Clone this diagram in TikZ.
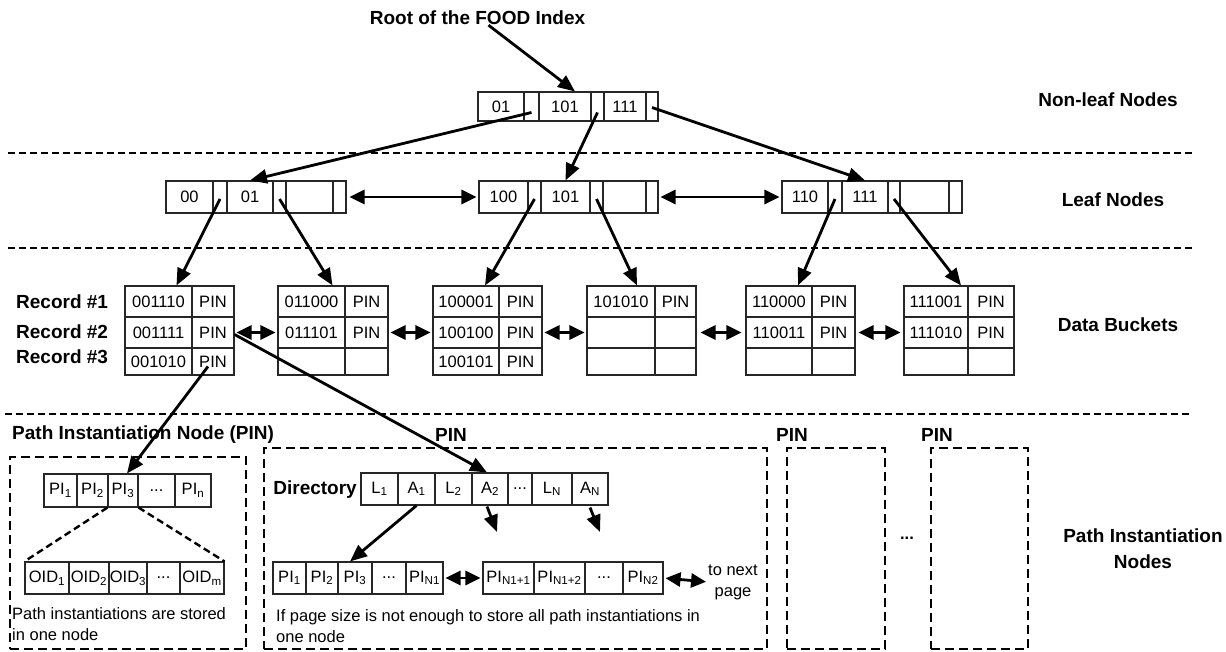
\documentclass[tikz,border=0pt]{standalone}
\usepackage{fontspec}
\setmainfont{Liberation Sans}
\usetikzlibrary{arrows.meta}
\newcommand\cellfont{\fontsize{16.5}{21}\selectfont}
\newcommand\lblfont{\fontsize{19}{26}\selectfont\bfseries}
% \mkcell[style]{name}{x0}{x1}{y0}{y1}{text}: a box spanning x0..x1, y0..y1
\newcommand\mkcell[7][cell]{\node[#1, minimum width={(#4)-(#3)}, minimum height={(#6)-(#5)}] (#2) at ({((#3)+(#4))/2},{((#5)+(#6))/2}) {#7};}
\begin{document}
\begin{tikzpicture}[x=1pt,y=-1pt,
  cell/.style={draw=black!85, line width=1.1pt, inner sep=0pt, font=\cellfont},
  dbox/.style={draw, line width=2.4pt, dash pattern=on 9pt off 5pt, inner sep=0pt},
  sepline/.style={line width=2.5pt, dash pattern=on 7pt off 4pt},
  arr/.style={line width=2.8pt, -{Triangle[length=17pt,width=14pt]}},
  darr/.style={line width=2.8pt, {Triangle[length=15pt,width=14pt]}-{Triangle[length=15pt,width=14pt]}},
  lbl/.style={font=\lblfont, inner sep=0pt},
  txt/.style={font=\cellfont, inner sep=0pt, align=left}]
\useasboundingbox (0,0) rectangle (1226,652);

% level separators
\draw[sepline] (8,153) -- (1192,153);
\draw[sepline] (8,248) -- (1192,248);
\draw[sepline] (5,414) -- (1190,414);

% level captions
\node[lbl] (root) at (477.5,18) {Root of the FOOD Index};
\node[lbl] (capnl) at (1108,100) {Non-leaf Nodes};
\node[lbl] (capleaf) at (1113,200) {Leaf Nodes};
\node[lbl] (capdb) at (1118,325) {Data Buckets};
\node[lbl, align=center] (cappin) at (1143,549) {Path Instantiation\\Nodes};

% non-leaf node
\mkcell{nA}{478}{524}{92}{121}{01}
\mkcell{nP1}{524}{539}{92}{121}{}
\mkcell{nB}{539}{591}{92}{121}{101}
\mkcell{nP2}{591}{604}{92}{121}{}
\mkcell{nC}{604}{646}{92}{121}{111}
\mkcell{nP3}{646}{658}{92}{121}{}

% leaf nodes
\mkcell{lA}{166}{213}{181}{213}{00}
\mkcell{lAp}{213}{227}{181}{213}{}
\mkcell{lB}{227}{273}{181}{213}{01}
\mkcell{lBp}{273}{286}{181}{213}{}
\mkcell{lE}{286}{333}{181}{213}{}
\mkcell{lEp}{333}{346}{181}{213}{}

\mkcell{mA}{479}{528}{181}{213}{100}
\mkcell{mAp}{528}{541}{181}{213}{}
\mkcell{mB}{541}{590}{181}{213}{101}
\mkcell{mBp}{590}{603}{181}{213}{}
\mkcell{mE}{603}{646}{181}{213}{}
\mkcell{mEp}{646}{658}{181}{213}{}

\mkcell{rA}{782}{828}{181}{213}{110}
\mkcell{rAp}{828}{842}{181}{213}{}
\mkcell{rB}{842}{888}{181}{213}{111}
\mkcell{rBp}{888}{900}{181}{213}{}
\mkcell{rE}{900}{949}{181}{213}{}
\mkcell{rEp}{949}{962}{181}{213}{}

% data buckets: key column / PIN column, three records each
\mkcell{b1k1}{125}{192}{286}{317}{001110}
\mkcell{b1p1}{192}{234}{286}{317}{PIN}
\mkcell{b1k2}{125}{192}{317}{348}{001111}
\mkcell{b1p2}{192}{234}{317}{348}{PIN}
\mkcell{b1k3}{125}{192}{348}{375}{001010}
\mkcell{b1p3}{192}{234}{348}{375}{PIN}

\mkcell{b2k1}{278}{345}{286}{317}{011000}
\mkcell{b2p1}{345}{388}{286}{317}{PIN}
\mkcell{b2k2}{278}{345}{317}{348}{011101}
\mkcell{b2p2}{345}{388}{317}{348}{PIN}
\mkcell{b2k3}{278}{345}{348}{375}{}
\mkcell{b2p3}{345}{388}{348}{375}{}

\mkcell{b3k1}{433}{499}{286}{317}{100001}
\mkcell{b3p1}{499}{542}{286}{317}{PIN}
\mkcell{b3k2}{433}{499}{317}{348}{100100}
\mkcell{b3p2}{499}{542}{317}{348}{PIN}
\mkcell{b3k3}{433}{499}{348}{375}{100101}
\mkcell{b3p3}{499}{542}{348}{375}{PIN}

\mkcell{b4k1}{587}{655}{286}{317}{101010}
\mkcell{b4p1}{655}{696}{286}{317}{PIN}
\mkcell{b4k2}{587}{655}{317}{348}{}
\mkcell{b4p2}{655}{696}{317}{348}{}
\mkcell{b4k3}{587}{655}{348}{375}{}
\mkcell{b4p3}{655}{696}{348}{375}{}

\mkcell{b5k1}{746}{812}{286}{317}{110000}
\mkcell{b5p1}{812}{855}{286}{317}{PIN}
\mkcell{b5k2}{746}{812}{317}{348}{110011}
\mkcell{b5p2}{812}{855}{317}{348}{PIN}
\mkcell{b5k3}{746}{812}{348}{375}{}
\mkcell{b5p3}{812}{855}{348}{375}{}

\mkcell{b6k1}{904}{968}{286}{317}{111001}
\mkcell{b6p1}{968}{1014}{286}{317}{PIN}
\mkcell{b6k2}{904}{968}{317}{348}{111010}
\mkcell{b6p2}{968}{1014}{317}{348}{PIN}
\mkcell{b6k3}{904}{968}{348}{375}{}
\mkcell{b6p3}{968}{1014}{348}{375}{}

\node[lbl, anchor=west] (rec1) at (16,302) {Record \#1};
\node[lbl, anchor=west] (rec2) at (16,332) {Record \#2};
\node[lbl, anchor=west] (rec3) at (16,357) {Record \#3};

% path instantiation node containers
\mkcell[dbox]{pinA}{10}{246}{457}{649}{}
\mkcell[dbox]{pinB}{264}{767}{448}{649}{}
\mkcell[dbox]{pinC}{787}{885}{448}{649}{}
\mkcell[dbox]{pinD}{931}{1028}{448}{649}{}
\node[lbl, anchor=west] (pinAlbl) at (12,435) {Path Instantiation Node (PIN)};
\node[lbl] (pinBlbl) at (451,435) {PIN};
\node[lbl] (pinClbl) at (792,435) {PIN};
\node[lbl] (pinDlbl) at (937,435) {PIN};
\node[txt] (moredots) at (907,538) {\bfseries ...};

% single-page PIN
\mkcell{p1}{44}{77}{474}{507}{PI\textsubscript{1}}
\mkcell{p2}{77}{108}{474}{507}{PI\textsubscript{2}}
\mkcell{p3}{108}{138}{474}{507}{PI\textsubscript{3}}
\mkcell{pd}{138}{175}{474}{507}{...}
\mkcell{pn}{175}{211}{474}{507}{PI\textsubscript{n}}

\mkcell{o1}{25}{69}{562}{594}{OID\textsubscript{1}}
\mkcell{o2}{69}{109}{562}{594}{OID\textsubscript{2}}
\mkcell{o3}{109}{147}{562}{594}{OID\textsubscript{3}}
\mkcell{od}{147}{180}{562}{594}{...}
\mkcell{om}{180}{224}{562}{594}{OID\textsubscript{m}}
\draw[line width=2.4pt, dash pattern=on 7pt off 4pt] (p3.south west) -- (o1.north west);
\draw[line width=2.4pt, dash pattern=on 7pt off 4pt] (p3.south east) -- (om.north east);
\node[txt, anchor=north west] (noteA) at (12,607) {Path instantiations are stored\\in one node};

% multi-page PIN with directory
\node[lbl, anchor=east] (dirlbl) at (357,490) {Directory};
\mkcell{dL1}{361}{398}{473}{505}{L\textsubscript{1}}
\mkcell{dA1}{398}{435}{473}{505}{A\textsubscript{1}}
\mkcell{dL2}{435}{472}{473}{505}{L\textsubscript{2}}
\mkcell{dA2}{472}{508}{473}{505}{A\textsubscript{2}}
\mkcell{dd}{508}{532}{473}{505}{...}
\mkcell{dLN}{532}{572}{473}{505}{L\textsubscript{N}}
\mkcell{dAN}{572}{608}{473}{505}{A\textsubscript{N}}

\mkcell{q1}{273}{306}{562}{594}{PI\textsubscript{1}}
\mkcell{q2}{306}{338}{562}{594}{PI\textsubscript{2}}
\mkcell{q3}{338}{372}{562}{594}{PI\textsubscript{3}}
\mkcell{qd}{372}{406}{562}{594}{...}
\mkcell{qn}{406}{443}{562}{594}{PI\textsubscript{N1}}

\mkcell{s1}{483}{534}{562}{594}{PI\textsubscript{N1+1}}
\mkcell{s2}{534}{585}{562}{594}{PI\textsubscript{N1+2}}
\mkcell{sd}{585}{623}{562}{594}{...}
\mkcell{sn}{623}{663}{562}{594}{PI\textsubscript{N2}}
\node[txt, align=center] (tonext) at (733,582) {to next\\page};
\node[txt, anchor=north west] (noteB) at (276,609) {If page size is not enough to store all path instantiations in\\one node};

\coordinate (a2end) at (497,532);
\coordinate (anend) at (600,532);

% connectors
\draw[arr] ([xshift=11pt]root.south) -- ([xshift=10pt]nB.north);
\draw[arr] ([yshift=-6pt]nP1.center) -- (lB.north);
\draw[arr] ([yshift=-6pt]nP2.center) -- (mB.north);
\draw[arr] ([yshift=-1pt]nP3.center) -- (rB.north);

\draw[darr, shorten <=3pt, shorten >=2pt] (lEp.east) -- (mA.west);
\draw[darr, shorten <=2pt, shorten >=2pt] (mEp.east) -- (rA.west);

\draw[arr] ([yshift=-2pt]lAp.center) -- ([xshift=18pt]b1k1.north);
\draw[arr] ([yshift=-2pt]lBp.center) -- ([xshift=21pt]b2k1.north);
\draw[arr] ([yshift=-2pt]mAp.center) -- ([xshift=19pt]b3k1.north);
\draw[arr] ([yshift=-2pt]mBp.center) -- ([xshift=16pt]b4k1.north);
\draw[arr] ([yshift=-2pt]rAp.center) -- ([xshift=19pt]b5k1.north);
\draw[arr] ([yshift=-2pt]rBp.center) -- ([xshift=25pt]b6k1.north);

\draw[darr, shorten <=2pt, shorten >=2pt] (b1p2.east) -- (b2k2.west);
\draw[darr, shorten <=2pt, shorten >=2pt] (b2p2.east) -- (b3k2.west);
\draw[darr, shorten <=2pt, shorten >=2pt] (b3p2.east) -- (b4k2.west);
\draw[darr, shorten <=4pt, shorten >=4pt] (b4p2.east) -- (b5k2.west);
\draw[darr, shorten <=3pt, shorten >=3pt] (b5p2.east) -- (b6k2.west);

\draw[arr] ([xshift=-5pt,yshift=-5pt]b1p3.center) -- ([xshift=4pt]p3.north);
\draw[arr] ([yshift=-2pt]b1p2.east) -- ([xshift=-3pt]dA2.north);

\draw[arr] (dA1.south) -- ([xshift=-5pt]q3.north);
\draw[arr] ([xshift=-3pt,yshift=-1pt]dA2.south) -- (a2end);
\draw[arr] ([yshift=-2pt]dAN.south) -- (anend);
\draw[darr, shorten <=2pt, shorten >=2pt] (qn.east) -- (s1.west);
\draw[darr, shorten <=2pt, shorten >=2pt] (sn.east) -- (tonext.west);
\end{tikzpicture}
\end{document}
